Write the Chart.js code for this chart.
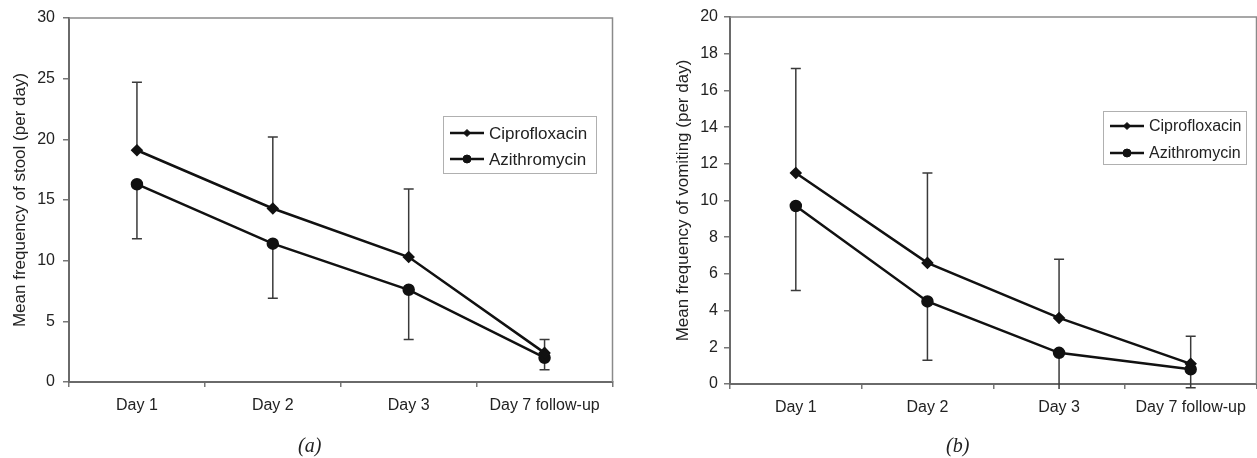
<!DOCTYPE html>
<html>
<head>
<meta charset="utf-8">
<script src="https://cdn.jsdelivr.net/npm/chart.js@4.4.1/dist/chart.umd.min.js"></script>
<style>
  body { margin:0; background:#fff; width:1257px; height:458px; overflow:hidden; position:relative; }
  canvas { position:absolute; top:0; }
  .cap { position:absolute; top:434px; font:italic 20px "Liberation Serif", "Times New Roman", serif; color:#222; }
</style>
</head>
<body>
<canvas id="stool" width="620" height="458" style="left:0px"></canvas>
<canvas id="vomit" width="617" height="458" style="left:640px"></canvas>
<div class="cap" style="left:298px">(a)</div>
<div class="cap" style="left:946px">(b)</div>
<script>
// categories
var days = ['Day 1', 'Day 2', 'Day 3', 'Day 7 follow-up'];
var seriesNames = ['Ciprofloxacin', 'Azithromycin'];

// (a) stool frequency, per day
var stoolCipro = [19.1, 14.3, 10.3, 2.4];
var stoolAzi = [16.3, 11.4, 7.6, 2.0];
var stoolCiproUpper = [24.7, 20.2, 15.9, 3.5];
var stoolAziLower = [11.8, 6.9, 3.5, 1.0];
var stoolAxis = [0, 30, 5];   // min, max, step

// (b) vomiting frequency, per day
var vomitCipro = [11.5, 6.6, 3.6, 1.1];
var vomitAzi = [9.7, 4.5, 1.7, 0.8];
var vomitCiproUpper = [17.2, 11.5, 6.8, 2.6];
var vomitAziLower = [5.1, 1.3, -1.4, -0.2];
var vomitAxis = [0, 20, 2];

Chart.defaults.font.family = '"Liberation Sans", Arial, sans-serif';
Chart.defaults.color = '#222';

// error bars: cipro goes up, azi goes down, clipped a bit under the axis
var errorBars = {
  id: 'errorBars',
  beforeDatasetsDraw: function(chart, args, opts) {
    var ctx = chart.ctx, x = chart.scales.x, y = chart.scales.y, a = chart.chartArea;
    ctx.save();
    ctx.beginPath();
    ctx.rect(a.left, a.top - 10, a.right - a.left, a.bottom - a.top + 15);
    ctx.clip();
    ctx.strokeStyle = '#3a3a3a';
    ctx.lineWidth = 1.5;
    opts.bars.forEach(function(b) {
      var vals = chart.data.datasets[b.ds].data;
      for (var i = 0; i < vals.length; i++) {
        var px = x.getPixelForValue(i);
        var y0 = y.getPixelForValue(vals[i]);
        var y1 = y.getPixelForValue(b.ends[i]);
        ctx.beginPath();
        ctx.moveTo(px, y0); ctx.lineTo(px, y1);
        ctx.moveTo(px - 5, y1); ctx.lineTo(px + 5, y1);
        ctx.stroke();
      }
    });
    ctx.restore();
  }
};

// top and right edges of the plot box
var plotBox = {
  id: 'plotBox',
  beforeDatasetsDraw: function(chart) {
    var ctx = chart.ctx, a = chart.chartArea;
    ctx.save();
    ctx.strokeStyle = '#8a8a8a';
    ctx.lineWidth = 1.5;
    ctx.beginPath();
    ctx.moveTo(a.left, a.top); ctx.lineTo(a.right, a.top); ctx.lineTo(a.right, a.bottom);
    ctx.stroke();
    ctx.restore();
  }
};

// boxed legend sitting inside the plot
var boxLegend = {
  id: 'boxLegend',
  afterDraw: function(chart, args, o) {
    var ctx = chart.ctx;
    ctx.save();
    ctx.fillStyle = '#fff';
    ctx.fillRect(o.x, o.y, o.w, o.h);
    ctx.strokeStyle = '#b0b0b0';
    ctx.lineWidth = 1;
    ctx.strokeRect(o.x + 0.5, o.y + 0.5, o.w, o.h);
    ctx.font = o.size + 'px "Liberation Sans", Arial, sans-serif';
    ctx.textBaseline = 'middle';
    chart.data.datasets.forEach(function(ds, i) {
      var ry = o.y + o.row0 + i * o.gap;
      ctx.strokeStyle = '#111';
      ctx.fillStyle = '#111';
      ctx.lineWidth = 2.5;
      ctx.beginPath();
      ctx.moveTo(o.x + 7, ry); ctx.lineTo(o.x + 41, ry);
      ctx.stroke();
      ctx.lineWidth = 1;
      Chart.helpers.drawPoint(ctx, {pointStyle: ds.pointStyle, radius: ds.pointRadius - 1, rotation: 0, borderWidth: 1}, o.x + 24, ry);
      ctx.fillStyle = '#222';
      ctx.fillText(ds.label, o.x + 46, ry + 1);
    });
    ctx.restore();
  }
};

function makeChart(id, cipro, azi, upper, lower, axis, title, lay) {
  var line = { borderColor:'#111', backgroundColor:'#111', pointBackgroundColor:'#111', pointBorderColor:'#111',
               borderWidth:2.5, tension:0, fill:false };
  var ch = new Chart(document.getElementById(id), {
    type: 'line',
    data: {
      labels: days,
      datasets: [
        Object.assign({ label: seriesNames[0], data: cipro, pointStyle:'rectRot', pointRadius:4.5 }, line),
        Object.assign({ label: seriesNames[1], data: azi, pointStyle:'circle', pointRadius:5 }, line)
      ]
    },
    options: {
      responsive: false,
      maintainAspectRatio: false,
      animation: false,
      events: [],
      layout: { padding: { left:0, top:lay.top, right:0, bottom:0 } },
      plugins: {
        legend: { display:false },
        tooltip: { enabled:false },
        errorBars: { bars: [ {ds:0, ends:upper}, {ds:1, ends:lower} ] },
        boxLegend: lay.legend
      },
      scales: {
        x: {
          offset: true,
          grid: { offset:true, drawOnChartArea:false, tickLength:5, color:'#777', lineWidth:1.5 },
          border: { color:'#6a6a6a', width:2 },
          ticks: { padding:9, font:{size:16}, maxRotation:0, autoSkip:false },
          afterFit: function(s) { s.height = lay.xh; s.paddingLeft = 0; s.paddingRight = 0; }
        },
        y: {
          min: axis[0], max: axis[1],
          grid: { drawOnChartArea:false, tickLength:6, color:'#777', lineWidth:1.5 },
          border: { color:'#6a6a6a', width:2 },
          ticks: { stepSize: axis[2], padding:lay.tp, font:{size:16} },
          title: { display:true, text:title, font:{size:17}, padding:{top:lay.tt, bottom:0} },
          afterFit: function(s) { s.width = lay.yw; }
        }
      }
    },
    plugins: [plotBox, errorBars, boxLegend]
  });
  // layout keeps a few px spare on the right; widen the canvas so the plot edge lands where the figure has it
  var diff = Math.round(lay.right - ch.chartArea.right);
  if (diff !== 0) {
    ch.resize(ch.width + diff, ch.height);
  }
  return ch;
}

makeChart('stool', stoolCipro, stoolAzi, stoolCiproUpper, stoolAziLower, stoolAxis,
  'Mean frequency of stool (per day)',
  { top:18, right:612, xh:76, yw:69, tp:8, tt:10,
    legend:{ x:443, y:116, w:153, h:57, row0:17, gap:26, size:17 } });

makeChart('vomit', vomitCipro, vomitAzi, vomitCiproUpper, vomitAziLower, vomitAxis,
  'Mean frequency of vomiting (per day)',
  { top:17, right:616, xh:74, yw:90, tp:6, tt:33,
    legend:{ x:463, y:111, w:143, h:53, row0:15, gap:27, size:16 } });
</script>
</body>
</html>
